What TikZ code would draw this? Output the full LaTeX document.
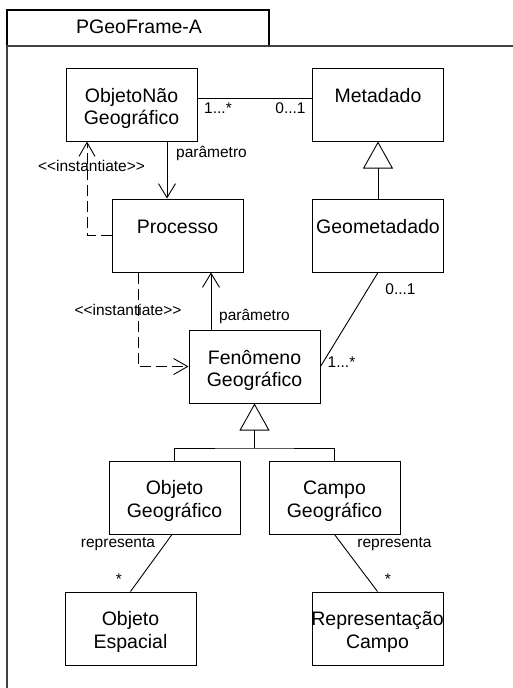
\documentclass[tikz,border=0pt]{standalone}
\usepackage{fontspec}
\setmainfont{Liberation Sans}[Ligatures=TeXOff]
\usetikzlibrary{arrows.meta}

\begin{document}
\begin{tikzpicture}[x=1pt,y=-1pt,
  cls/.style={draw, rectangle, line width=1pt, inner sep=0pt,
              minimum width=131pt, minimum height=73pt},
  ln/.style={anchor=base, inner sep=0pt, font=\fontsize{19.5}{22}\selectfont},
  lbl/.style={anchor=base, inner sep=0pt, font=\fontsize{15.5}{18}\selectfont},
  conn/.style={line width=0.9pt},
  nav/.style={conn, -{Straight Barb[length=14pt,width=17pt,line width=0.9pt]}},
  dep/.style={conn, dash pattern=on 11pt off 5pt,
              -{Straight Barb[length=14pt,width=16pt,line width=0.9pt]}},
  gen/.style={conn, -{Triangle[open,length=27pt,width=30pt,line width=0.9pt]}}]

\useasboundingbox (0,0) rectangle (512,688);

% package frame with its name tab
\node[draw, line width=1.2pt, minimum width=262pt, minimum height=36pt,
      inner sep=0pt] (tab) at (138,28) {};
\node[ln] (tabname) at (139,33.5) {PGeoFrame-A};
\coordinate (frameTR) at (530,46);
\coordinate (frameBL) at (7,700);
\draw[line width=1.2pt, black!75] (frameBL) |- (frameTR);

% classes
\node[cls] (ong)   at (131.5,104.5) {};
\node[cls] (meta)  at (378,104.5) {};
\node[cls] (proc)  at (177.5,235.5) {};
\node[cls] (geo)   at (378,235.5) {};
\node[cls] (fen)   at (254.5,366.5) {};
\node[cls] (ogeo)  at (174.5,497.5) {};
\node[cls] (cgeo)  at (334.5,497.5) {};
\node[cls] (oesp)  at (130.5,628.5) {};
\node[cls] (rcamp) at (377.5,628.5) {};

% class names
\node[ln] (ong1)   at ([yshift=-35pt]ong.north)   {ObjetoNão};
\node[ln] (ong2)   at ([yshift=-57pt]ong.north)   {Geográfico};
\node[ln] (meta1)  at ([yshift=-35pt]meta.north)  {Metadado};
\node[ln] (proc1)  at ([yshift=-35pt]proc.north)  {Processo};
\node[ln] (geo1)   at ([yshift=-35pt]geo.north)   {Geometadado};
\node[ln] (fen1)   at ([yshift=-35pt]fen.north)   {Fenômeno};
\node[ln] (fen2)   at ([yshift=-57pt]fen.north)   {Geográfico};
\node[ln] (ogeo1)  at ([yshift=-34pt]ogeo.north)  {Objeto};
\node[ln] (ogeo2)  at ([yshift=-57pt]ogeo.north)  {Geográfico};
\node[ln] (cgeo1)  at ([yshift=-34pt]cgeo.north)  {Campo};
\node[ln] (cgeo2)  at ([yshift=-57pt]cgeo.north)  {Geográfico};
\node[ln] (oesp1)  at ([yshift=-34pt]oesp.north)  {Objeto};
\node[ln] (oesp2)  at ([yshift=-57pt]oesp.north)  {Espacial};
\node[ln] (rcamp1) at ([yshift=-34pt]rcamp.north) {Representação};
\node[ln] (rcamp2) at ([yshift=-57pt]rcamp.north) {Campo};

% association ObjetoNaoGeografico -- Metadado
\draw[conn] ([yshift=6.5pt]ong.east) -- ([yshift=6.5pt]meta.west);
\node[lbl] (m1) at (218,113) {1...*};
\node[lbl] (m2) at (290.5,113) {0...1};

% generalization Geometadado -> Metadado
\draw[gen] (geo.north) -- (meta.south);

% parameter ObjetoNaoGeografico -> Processo
\draw[nav] ([xshift=35.5pt]ong.south) -- ([xshift=35.5pt]ong.south |- proc.north);
\node[lbl] (p1) at (211.5,157) {parâmetro};

% instantiate Processo -> ObjetoNaoGeografico
\draw[dep] (proc.west) -| ([xshift=-44.5pt]ong.south);
\node[lbl] (i1) at (91.5,171) {<<instantiate>>};

% parameter FenomenoGeografico -> Processo
\draw[nav] ([xshift=-43.5pt]fen.north) -- ([xshift=-43.5pt]fen.north |- proc.south);
\node[lbl] (p2) at (254.5,320) {parâmetro};

% instantiate Processo -> FenomenoGeografico
\draw[dep] ([xshift=-39.5pt]proc.south) |- (fen.west);
\node[lbl] (i2) at (128,315.5) {<<instantiate>>};

% association Geometadado -- FenomenoGeografico
\draw[conn] (geo.south) -- (fen.east);
\node[lbl] (m3) at (400.5,294) {0...1};
\node[lbl] (m4) at (341.5,367) {1...*};

% generalization tree below FenomenoGeografico
\coordinate (bar) at (254.5,448);
\draw[conn] (ogeo.north) |- (bar) -| (cgeo.north);
\draw[gen] (fen.south |- bar) -- (fen.south);

% representa associations
\draw[conn] ([xshift=-2.5pt]ogeo.south) -- (oesp.north);
\node[lbl] (r1) at (118,547) {representa};
\node[lbl] (s1) at (119,584) {*};
\draw[conn] (cgeo.south) -- (rcamp.north);
\node[lbl] (r2) at (394.5,547) {representa};
\node[lbl] (s2) at (388,584) {*};

\end{tikzpicture}
\end{document}
